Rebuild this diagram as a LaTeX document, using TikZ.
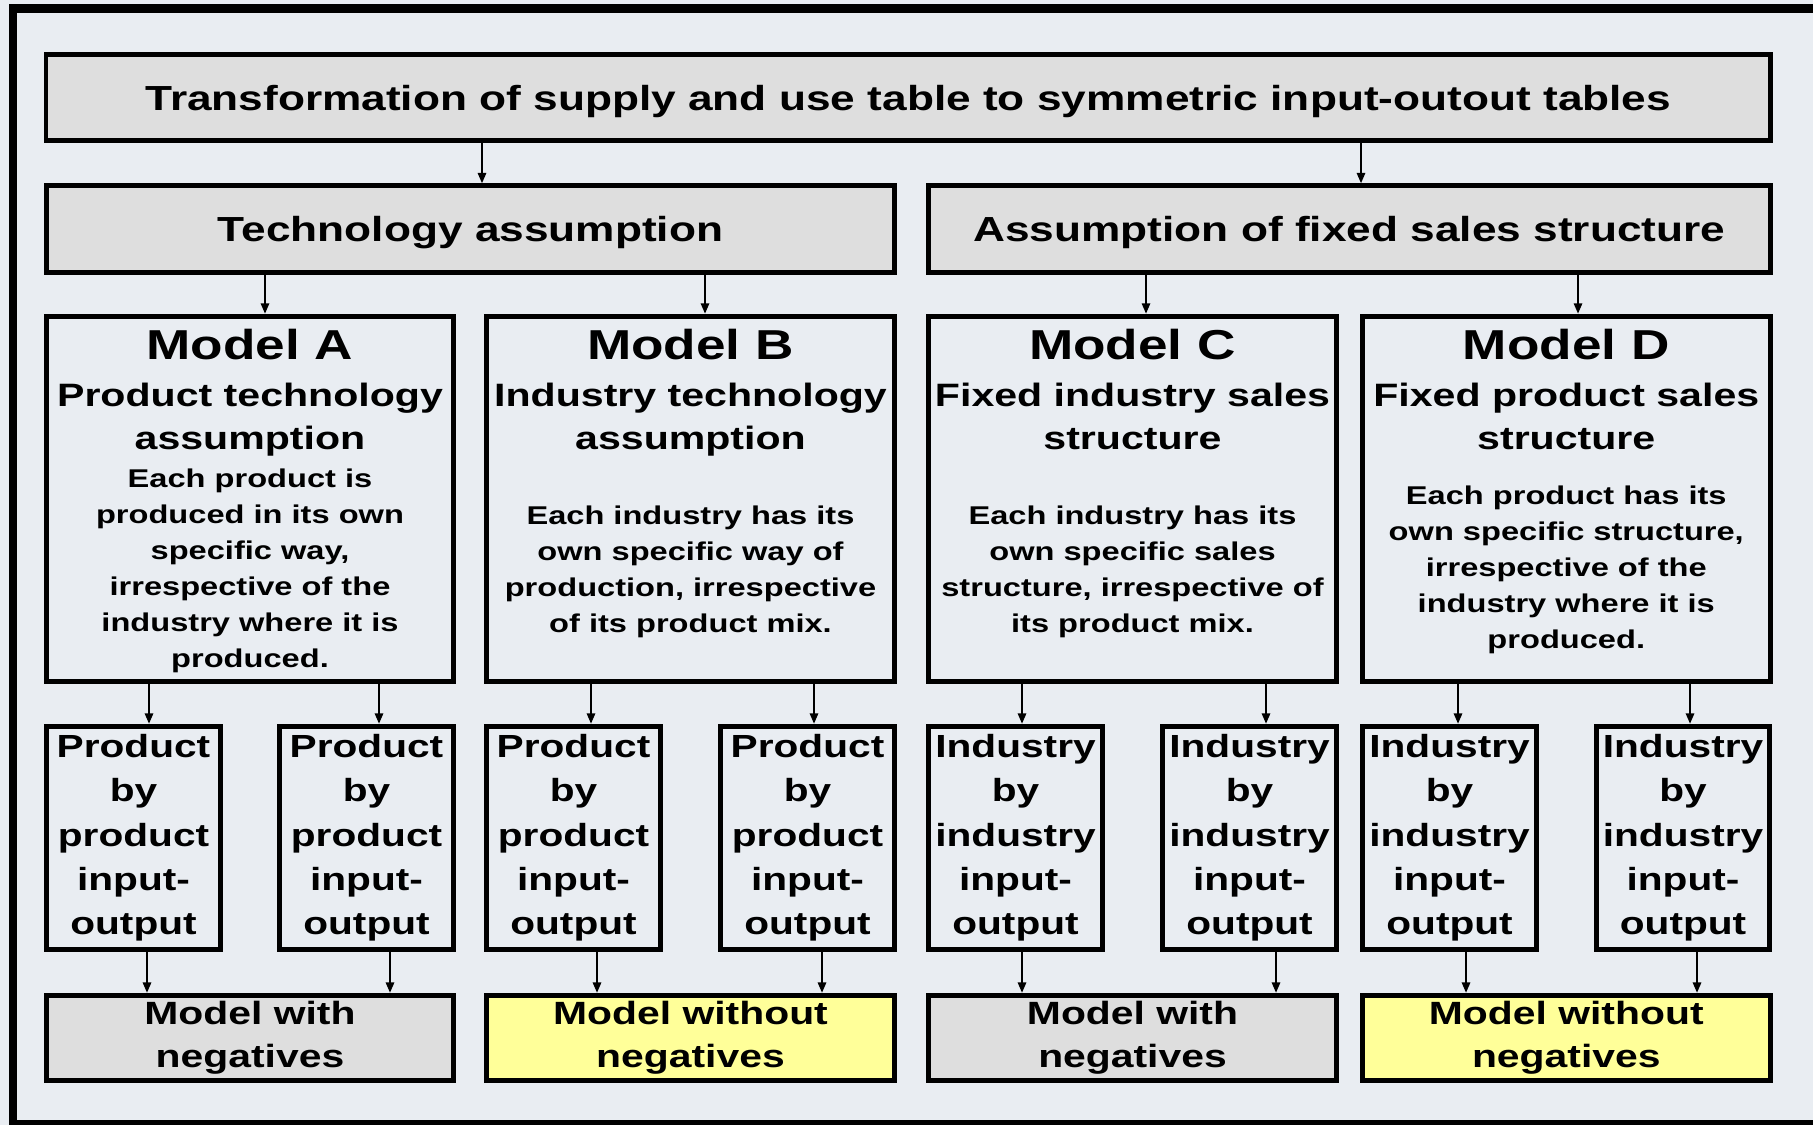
\documentclass[tikz,border=0pt]{standalone}
\usepackage{fontspec}
\setmainfont{Liberation Sans}[FakeStretch=1.27]
\usetikzlibrary{arrows.meta}
\definecolor{bgcol}{RGB}{233,237,242}
\definecolor{boxgrey}{RGB}{222,222,222}
\definecolor{boxyellow}{RGB}{255,255,153}

\begin{document}
\begin{tikzpicture}[x=0.01cm, y=-0.01cm]
        \tikzstyle{every node} = [inner sep=0pt, align=center]
        \tikzstyle{box} = [draw, line width=1.42pt]
        \tikzstyle{head} = [box, fill=boxgrey, font=\bfseries\fontsize{9.9}{12}\selectfont, minimum height=0.86cm, text depth=0pt]
        \tikzstyle{model} = [box, minimum width=4.075cm, minimum height=3.65cm]
        \tikzstyle{table} = [box, minimum width=1.735cm, minimum height=2.23cm, font=\bfseries\fontsize{9.1}{12.6}\selectfont]
        \tikzstyle{result} = [box, minimum width=4.075cm, minimum height=0.85cm, font=\bfseries\fontsize{9.15}{12.3}\selectfont]
        \tikzstyle{mtitle} = [anchor=base, font=\bfseries\fontsize{11.9}{14}\selectfont]
        \tikzstyle{msub} = [anchor=base, font=\bfseries\fontsize{9.2}{11.95}\selectfont]
        \tikzstyle{mdesc} = [anchor=base, font=\bfseries\fontsize{7.3}{10.2}\selectfont]
        \tikzstyle{arr} = [line width=0.7pt, -{Triangle[length=3pt,width=2.3pt]}]

        % background and frame
        \fill[bgcol] (0,0) rectangle (1813,1125);
        \useasboundingbox (0,0) rectangle (1813,1125);
        \draw[line width=2.3pt] (12.8,8.5) rectangle (1860,1124);

        % headings
        \node[head, minimum width=17.235cm] (top) at (908.25,97.5) {Transformation of supply and use table to symmetric input-outout tables};
        \node[head, minimum width=8.48cm] (tech) at (470.5,229) {Technology assumption};
        \node[head, minimum width=8.415cm] (fixed) at (1349.25,229) {Assumption of fixed sales structure};

        % models (multi-line texts sit on their last baseline)
        \node[model] (mA) at (250,499) {};
        \node[model] (mB) at (690.5,499) {};
        \node[model] (mC) at (1132.5,499) {};
        \node[model] (mD) at (1566.25,499) {};
        \node[mtitle] (tA) at (250,360) {Model A};
        \node[mtitle] (tB) at (690.5,360) {Model B};
        \node[mtitle] (tC) at (1132.5,360) {Model C};
        \node[mtitle] (tD) at (1566.25,360) {Model D};
        \node[msub] (sA) at (250,449) {Product technology\\assumption};
        \node[msub] (sB) at (690.5,449) {Industry technology\\assumption};
        \node[msub] (sC) at (1132.5,449) {Fixed industry sales\\structure};
        \node[msub] (sD) at (1566.25,449) {Fixed product sales\\structure};
        \node[mdesc] (dA) at (250,667) {Each product is\\produced in its own\\specific way,\\irrespective of the\\industry where it is\\produced.};
        \node[mdesc] (dB) at (690.5,632) {Each industry has its\\own specific way of\\production, irrespective\\of its product mix.};
        \node[mdesc] (dC) at (1132.5,632) {Each industry has its\\own specific sales\\structure, irrespective of\\its product mix.};
        \node[mdesc] (dD) at (1566.25,648) {Each product has its\\own specific structure,\\irrespective of the\\industry where it is\\produced.};

        % input-output tables
        \foreach \n/\x/\kind/\lkind in {pA1/133.5/Product/product, pA2/366.5/Product/product,
                                        pB1/573.5/Product/product, pB2/807.5/Product/product,
                                        pC1/1015.5/Industry/industry, pC2/1249.5/Industry/industry,
                                        pD1/1449.5/Industry/industry, pD2/1683/Industry/industry}
            \node[table] (\n) at (\x,838) {\kind\\by\\\lkind\\input-\\output};

        % results
        \node[result, fill=boxgrey] (rA) at (250,1038) {Model with\\negatives};
        \node[result, fill=boxyellow] (rB) at (690.5,1038) {Model without\\negatives};
        \node[result, fill=boxgrey] (rC) at (1132.5,1038) {Model with\\negatives};
        \node[result, fill=boxyellow] (rD) at (1566.25,1038) {Model without\\negatives};

        % arrows
        \foreach \from/\to/\x in {top/tech/482, top/fixed/1361, tech/mA/265, tech/mB/705, fixed/mC/1146, fixed/mD/1578,
                                  mA/pA1/149, mA/pA2/379, mB/pB1/591, mB/pB2/814, mC/pC1/1022, mC/pC2/1266, mD/pD1/1458, mD/pD2/1690,
                                  pA1/rA/147, pA2/rA/390, pB1/rB/597, pB2/rB/822, pC1/rC/1022, pC2/rC/1276, pD1/rD/1466, pD2/rD/1697}
            \draw[arr] (\from.south -| \x,0) -- (\to.north -| \x,0);
\end{tikzpicture}
\end{document}
